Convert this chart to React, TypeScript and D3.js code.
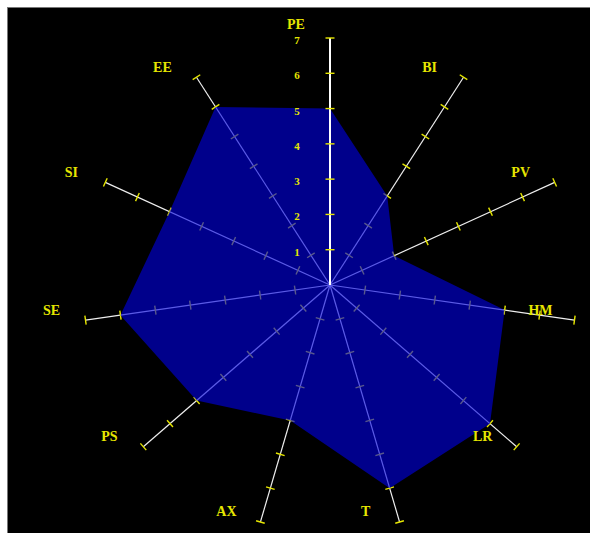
import React from "react";
import * as d3 from "d3";

const categories = ["PE", "BI", "PV", "HM", "LR", "T", "AX", "PS", "SE", "SI", "EE"];
const values = [5, 3, 2, 5, 6, 6, 4, 5, 6, 5, 6];
const tickValues = [1, 2, 3, 4, 5, 6, 7];

const W = 590;
const H = 533;
const cx = 330;
const cy = 285;
const R = 247;
const yellow = "#e6e600";

export default function App() {
  const r = d3.scaleLinear().domain([0, 7]).range([0, R]);
  const step = (2 * Math.PI) / categories.length;
  const pt = (i: number, v: number): [number, number] => {
    const a = i * step;
    return [cx + r(v) * Math.sin(a), cy - r(v) * Math.cos(a)];
  };
  const radial = d3
    .lineRadial<number>()
    .angle((_, i) => i * step)
    .radius((d) => r(d))
    .curve(d3.curveLinearClosed);

  const tickLen = 4.5;
  const axisTicks = (i: number, color: string) =>
    tickValues.map((t) => {
      const a = i * step;
      const [x, y] = pt(i, t);
      const px = Math.cos(a) * tickLen;
      const py = Math.sin(a) * tickLen;
      return (
        <line key={`t${i}-${t}`} x1={x - px} y1={y - py} x2={x + px} y2={y + py} stroke={color} strokeWidth={1.4} />
      );
    });

  return (
    <svg width={W} height={H} style={{ position: "fixed", left: 0, top: 0, background: "#fff" }}>
      <rect x={7.5} y={7.5} width={W} height={H} fill="#000" stroke="#777" strokeWidth={1} />
      {categories.map((c, i) => {
        if (i === 0) return null;
        const [x, y] = pt(i, 7);
        return (
          <g key={c}>
            <line x1={cx} y1={cy} x2={x} y2={y} stroke="#eeeeee" strokeWidth={1.2} />
            {axisTicks(i, yellow)}
          </g>
        );
      })}
      <path d={radial(values) || ""} transform={`translate(${cx},${cy})`} fill="#0000e0" fillOpacity={0.62} stroke="none" />
      <line x1={cx} y1={cy} x2={cx} y2={cy - r(7)} stroke="#fff" strokeWidth={2} />
      {axisTicks(0, yellow)}
      {tickValues.map((t) => (
        <text
          key={`l${t}`}
          x={cx - 33}
          y={cy - r(t) + 2}
          fill={yellow}
          fontFamily="Liberation Serif"
          fontWeight="bold"
          fontSize={11}
          textAnchor="middle"
          dominantBaseline="central"
        >
          {t}
        </text>
      ))}
      {categories.map((c, i) => {
        const [x, y] = pt(i, 7);
        return (
          <text
            key={`c${c}`}
            x={x - 34}
            y={y - 10 - (i === 0 ? 4 : 0)}
            fill={yellow}
            fontFamily="Liberation Serif"
            fontWeight="bold"
            fontSize={14}
            textAnchor="middle"
            dominantBaseline="central"
          >
            {c}
          </text>
        );
      })}
    </svg>
  );
}
